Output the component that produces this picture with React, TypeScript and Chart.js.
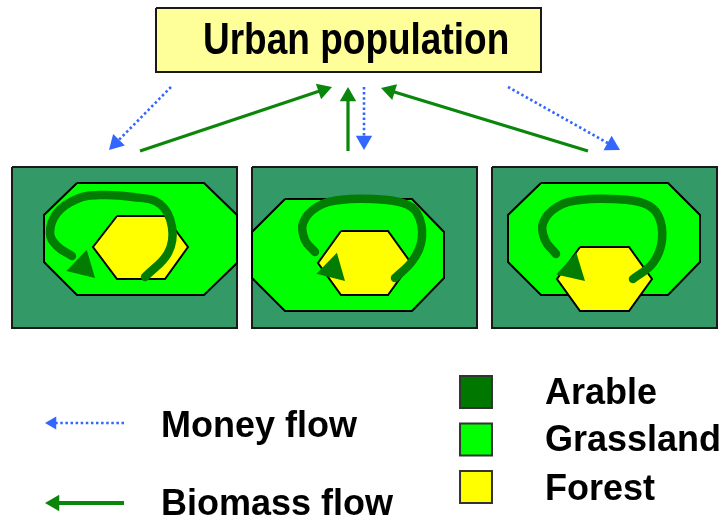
import React, { useEffect, useRef } from 'react';
import { Chart, registerables } from 'chart.js';

Chart.register(...registerables);

type P = [number, number];

// ---- Diagram data (diagram units: x 0–728, y 0–519, y pointing down) ----
const titleText = 'Urban population';
const urbanBox: P[] = [[156, 8], [541, 8], [541, 72], [156, 72]];

const arablePanels: P[][] = [
  [[12, 167], [237, 167], [237, 328], [12, 328]],
  [[252, 167], [477, 167], [477, 328], [252, 328]],
  [[492, 167], [717, 167], [717, 328], [492, 328]],
];

const grasslandPatches: P[][] = [
  [[77, 183], [204, 183], [237, 215], [237, 263], [204, 295], [77, 295], [44, 262], [44, 215]],
  [[285, 199], [412, 199], [444, 232], [444, 278], [412, 311], [285, 311], [252, 278], [252, 232]],
  [[541, 183], [668, 183], [700, 215], [700, 262], [668, 295], [541, 295], [508, 262], [508, 215]],
];

const forestPatches: P[][] = [
  [[117, 216], [165, 216], [188, 247], [165, 279], [117, 279], [93, 247]],
  [[341, 231], [388, 231], [411, 263], [388, 295], [341, 295], [318, 263]],
  [[580, 247], [629, 247], [652, 279], [629, 311], [580, 311], [557, 279]],
];

// internal biomass loops: path points, last point = arrow tip
const biomassLoops: P[][] = [
  [[145, 277], [168, 253], [172, 227], [160, 204], [133, 197], [100, 195], [77, 199], [57, 213], [50, 233], [57, 246], [72, 256], [95, 278]],
  [[395, 278], [413, 260], [422, 237], [417, 213], [403, 203], [373, 199], [340, 200], [317, 207], [303, 223], [305, 240], [315, 252], [345, 281]],
  [[633, 279], [653, 263], [662, 240], [658, 215], [643, 203], [613, 199], [580, 200], [557, 207], [543, 223], [545, 240], [556, 254], [585, 281]],
];

// flows between countryside and city: [from, tip]
const moneyFlows: P[][] = [
  [[171, 87], [109, 150]],
  [[364, 87], [364, 150]],
  [[508, 87], [620, 150]],
];
const biomassFlows: P[][] = [
  [[140, 151], [332, 87]],
  [[348, 151], [348, 87]],
  [[588, 151], [381, 88]],
];

const flowLegendLabels = ['Money flow', 'Biomass flow'];
const flowLegendArrows: P[][] = [
  [[124, 423], [45, 423]],
  [[124, 503], [45, 503]],
];

const landUseLabels = ['Arable', 'Grassland', 'Forest'];
const landUseMarkers: P[] = [[476, 392], [476, 439.5], [476, 487]];

// ---- Styles / layout ----
const COLORS = {
  box: '#FFFF99',
  stroke: '#1a1a1a',
  panel: '#339966',
  grass: '#00FF00',
  forest: '#FFFF00',
  loop: '#037C03',
  biomass: '#0A860A',
  money: '#3366FF',
  legendSquares: ['#007800', '#00FF00', '#FFFF00'],
};
const FONT = '"Liberation Sans", Arial, Helvetica, sans-serif';
const TEXT_LAYOUT = {
  title: { x: 203, y: 54, size: 37, stretchY: 1.19 },
  flowLabels: { x: 161, ys: [437, 515], size: 36 },
  landUseLabels: { x: 545, ys: [404, 451, 500], size: 36 },
};

let orderCounter = 1000;
const nextOrder = () => orderCounter--;
const pts = (a: P[]) => a.map(([x, y]) => ({ x, y }));

function polygon(a: P[], fill: string, stroke: string, bw: number) {
  return {
    data: pts([...a, a[0]]),
    showLine: true,
    fill: 'shape',
    backgroundColor: fill,
    borderColor: stroke,
    borderWidth: bw,
    borderJoinStyle: 'miter',
    pointRadius: 0,
    tension: 0,
    clip: false,
    order: nextOrder(),
  };
}

function unit(from: P, tip: P) {
  const dx = tip[0] - from[0];
  const dy = tip[1] - from[1];
  const len = Math.hypot(dx, dy) || 1;
  return [dx / len, dy / len];
}

function head(from: P, tip: P, r: number, color: string) {
  const [ux, uy] = unit(from, tip);
  const rot = (Math.atan2(ux, -uy) * 180) / Math.PI;
  return {
    data: [{ x: tip[0] - ux * r, y: tip[1] - uy * r }],
    showLine: false,
    pointStyle: 'triangle',
    pointRadius: r,
    pointRotation: rot,
    pointBackgroundColor: color,
    pointBorderColor: color,
    pointBorderWidth: 0,
    clip: false,
    order: nextOrder(),
  };
}

function straightArrow(seg: P[], color: string, width: number, r: number, dashed: boolean) {
  const [from, tip] = seg;
  const [ux, uy] = unit(from, tip);
  const end: P = [tip[0] - ux * r * 1.2, tip[1] - uy * r * 1.2];
  const line = {
    data: pts([from, end]),
    showLine: true,
    fill: false,
    borderColor: color,
    borderWidth: width,
    borderDash: dashed ? [2.5, 2.6] : [],
    borderCapStyle: 'butt',
    pointRadius: 0,
    clip: false,
    order: nextOrder(),
  };
  return [line, head(from, tip, r, color)];
}

function loopArrow(path: P[], color: string) {
  const body = path.slice(0, -1);
  const tip = path[path.length - 1];
  const line = {
    data: pts(body),
    showLine: true,
    fill: false,
    borderColor: color,
    borderWidth: 8.5,
    borderCapStyle: 'round',
    borderJoinStyle: 'round',
    tension: 0.4,
    pointRadius: 0,
    clip: false,
    order: nextOrder(),
  };
  return [line, head(body[body.length - 1], tip, 17, color)];
}

function buildDatasets() {
  orderCounter = 1000;
  const ds: any[] = [];
  ds.push(polygon(urbanBox, COLORS.box, COLORS.stroke, 2));
  for (let i = 0; i < arablePanels.length; i++) {
    ds.push(polygon(arablePanels[i], COLORS.panel, COLORS.stroke, 2));
    ds.push(polygon(grasslandPatches[i], COLORS.grass, '#000', 2));
    ds.push(polygon(forestPatches[i], COLORS.forest, '#000', 2));
    ds.push(...loopArrow(biomassLoops[i], COLORS.loop));
  }
  moneyFlows.forEach((s) => ds.push(...straightArrow(s, COLORS.money, 2.6, 9.5, true)));
  biomassFlows.forEach((s) => ds.push(...straightArrow(s, COLORS.biomass, 3.2, 9.5, false)));
  ds.push(...straightArrow(flowLegendArrows[0], COLORS.money, 2.6, 7.5, true));
  ds.push(...straightArrow(flowLegendArrows[1], COLORS.biomass, 4, 9.5, false));
  ds.push({
    data: pts(landUseMarkers),
    showLine: false,
    pointStyle: 'rect',
    pointRadius: 22.6,
    pointBackgroundColor: COLORS.legendSquares,
    pointBorderColor: '#333',
    pointBorderWidth: 2,
    clip: false,
    order: nextOrder(),
  });
  return ds;
}

const textPlugin = {
  id: 'diagramText',
  afterDatasetsDraw(chart: any) {
    const { ctx } = chart;
    const xs = chart.scales.x;
    const ys = chart.scales.y;
    const px = (v: number) => xs.getPixelForValue(v);
    const py = (v: number) => ys.getPixelForValue(v);
    ctx.save();
    ctx.fillStyle = '#000';
    ctx.textAlign = 'left';
    ctx.textBaseline = 'alphabetic';

    const t = TEXT_LAYOUT.title;
    ctx.save();
    ctx.translate(px(t.x), py(t.y));
    ctx.scale(1, t.stretchY);
    ctx.font = `bold ${t.size}px ${FONT}`;
    ctx.fillText(titleText, 0, 0);
    ctx.restore();

    const f = TEXT_LAYOUT.flowLabels;
    ctx.font = `bold ${f.size}px ${FONT}`;
    flowLegendLabels.forEach((s, i) => ctx.fillText(s, px(f.x), py(f.ys[i])));

    const l = TEXT_LAYOUT.landUseLabels;
    ctx.font = `bold ${l.size}px ${FONT}`;
    landUseLabels.forEach((s, i) => ctx.fillText(s, px(l.x), py(l.ys[i])));
    ctx.restore();
  },
};

export default function App() {
  const ref = useRef<HTMLCanvasElement | null>(null);
  useEffect(() => {
    if (!ref.current) return;
    const chart = new Chart(ref.current, {
      type: 'scatter',
      data: { datasets: buildDatasets() },
      options: {
        animation: false,
        responsive: false,
        maintainAspectRatio: false,
        events: [],
        layout: { padding: 0, autoPadding: false },
        plugins: { legend: { display: false }, tooltip: { enabled: false }, title: { display: false } },
        scales: {
          x: { type: 'linear', min: 0, max: 728, display: false },
          y: { type: 'linear', min: 0, max: 519, reverse: true, display: false },
        },
      },
      plugins: [textPlugin],
    } as any);
    return () => chart.destroy();
  }, []);
  return (
    <div style={{ position: 'fixed', left: 0, top: 0, width: 728, height: 519, background: '#fff' }}>
      <canvas ref={ref} width={728} height={519} style={{ display: 'block' }} />
    </div>
  );
}
